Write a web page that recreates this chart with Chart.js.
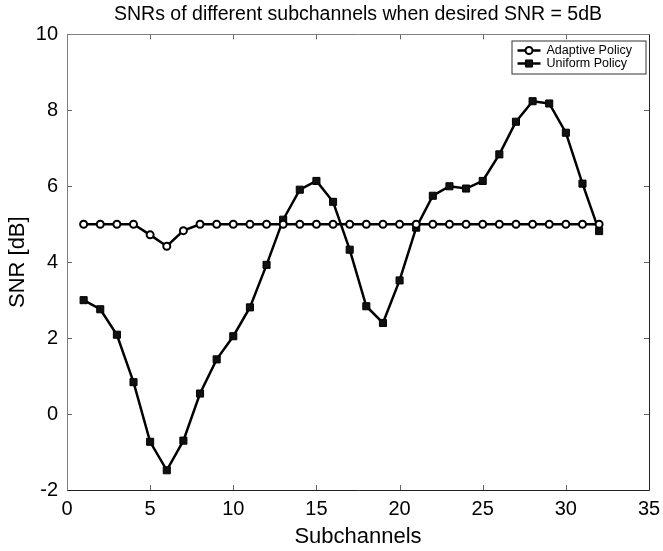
<!DOCTYPE html>
<html>
<head>
<meta charset="utf-8">
<script src="https://cdn.jsdelivr.net/npm/chart.js@4/dist/chart.umd.min.js"></script>
<style>
  html, body { margin: 0; padding: 0; background: #fff; }
  #wrap { width: 663px; height: 551px; }
</style>
</head>
<body>
<div id="wrap"><canvas id="grafico1" width="663" height="551"></canvas></div>
<script>
// subchannel index 1..32
const subchannels = [1,2,3,4,5,6,7,8,9,10,11,12,13,14,15,16,17,18,19,20,21,22,23,24,25,26,27,28,29,30,31,32];

const adaptiveSnr = [5.0,5.0,5.0,5.0,4.72,4.42,4.83,5.0,5.0,5.0,5.0,5.0,5.0,5.0,5.0,5.0,
                     5.0,5.0,5.0,5.0,5.0,5.0,5.0,5.0,5.0,5.0,5.0,5.0,5.0,5.0,5.0,5.0];

const uniformSnr = [3.0,2.76,2.09,0.84,-0.73,-1.48,-0.70,0.54,1.44,2.05,2.81,3.93,5.12,5.91,6.14,5.59,
                    4.33,2.84,2.40,3.52,4.91,5.75,6.0,5.94,6.14,6.84,7.70,8.24,8.18,7.41,6.07,4.82];

const xTicks = [0,5,10,15,20,25,30,35];
const yTicks = [-2,0,2,4,6,8,10];

const titleText = 'SNRs of different subchannels when desired SNR = 5dB';
const seriesNames = ['Adaptive Policy', 'Uniform Policy'];

const font = '"Liberation Sans", Arial, Helvetica, sans-serif';

function toPoints(ys) {
   return subchannels.map((x, i) => ({ x: x, y: ys[i] }));
}

// box round the axes, inward tick marks, legend in the top right
const matlabBox = {
   id: 'matlabBox',
   afterDraw(chart) {
      const ctx = chart.ctx;
      const a = chart.chartArea;
      const xs = chart.scales.x;
      const ys = chart.scales.y;
      const tl = 5;
      ctx.save();
      ctx.lineWidth = 1;
      // ticks
      ctx.strokeStyle = '#666';
      ctx.beginPath();
      xTicks.forEach(v => {
         const px = Math.round(xs.getPixelForValue(v)) + 0.5;
         ctx.moveTo(px, a.bottom); ctx.lineTo(px, a.bottom - tl);
         ctx.moveTo(px, a.top); ctx.lineTo(px, a.top + tl);
      });
      yTicks.forEach(v => {
         const py = Math.round(ys.getPixelForValue(v)) + 0.5;
         ctx.moveTo(a.left, py); ctx.lineTo(a.left + tl, py);
         ctx.moveTo(a.right, py); ctx.lineTo(a.right - tl, py);
      });
      ctx.stroke();
      // top and left edges lighter, bottom and right darker
      const L = Math.round(a.left) + 0.5, R = Math.round(a.right) + 0.5;
      const T = Math.round(a.top) + 0.5, B = Math.round(a.bottom) + 0.5;
      ctx.strokeStyle = '#808080';
      ctx.beginPath();
      ctx.moveTo(L, B); ctx.lineTo(L, T); ctx.lineTo(R, T);
      ctx.stroke();
      ctx.strokeStyle = '#222';
      ctx.beginPath();
      ctx.moveTo(L, B); ctx.lineTo(R, B); ctx.lineTo(R, T);
      ctx.stroke();

      // legend
      const bx = R - 138, by = T + 6, bw = 134, bh = 33;
      ctx.fillStyle = '#fff';
      ctx.fillRect(bx, by, bw, bh);
      ctx.strokeStyle = '#333';
      ctx.strokeRect(bx + 0.5, by + 0.5, bw, bh);
      ctx.font = '12.5px ' + font;
      ctx.textBaseline = 'middle';
      chart.data.datasets.forEach((ds, i) => {
         const cy = by + 10 + i * 13;
         ctx.strokeStyle = '#000';
         ctx.lineWidth = 2.5;
         ctx.beginPath();
         ctx.moveTo(bx + 6, cy); ctx.lineTo(bx + 29, cy);
         ctx.stroke();
         ctx.save();
         ctx.fillStyle = ds.pointBackgroundColor;
         ctx.strokeStyle = '#000';
         ctx.lineWidth = ds.pointBorderWidth;
         ctx.beginPath();
         if (ds.pointStyle === 'circle') {
            ctx.arc(bx + 17.5, cy, ds.pointRadius, 0, Math.PI * 2);
         } else {
            const s = ds.pointRadius * Math.SQRT1_2;
            ctx.rect(bx + 17.5 - s, cy - s, 2 * s, 2 * s);
         }
         ctx.fill();
         ctx.stroke();
         ctx.restore();
         ctx.fillStyle = '#000';
         ctx.fillText(ds.label, bx + 35, cy);
      });
      ctx.restore();
   }
};

const data = {
   datasets: [
      {
         label: seriesNames[0],
         data: toPoints(adaptiveSnr),
         showLine: true,
         borderColor: '#000',
         borderWidth: 2.5,
         pointStyle: 'circle',
         pointRadius: 3.5,
         pointBorderWidth: 2,
         pointBorderColor: '#000',
         pointBackgroundColor: '#fff'
      },
      {
         label: seriesNames[1],
         data: toPoints(uniformSnr),
         showLine: true,
         borderColor: '#000',
         borderWidth: 2.5,
         pointStyle: 'rect',
         pointRadius: 5,
         pointBorderWidth: 1,
         pointBorderColor: '#000',
         pointBackgroundColor: '#111'
      }
   ]
};

const chart1 = new Chart(document.getElementById('grafico1').getContext('2d'), {
   type: 'scatter',
   data,
   options: {
      responsive: false,
      animation: false,
      layout: { padding: { top: 0, right: 14, bottom: 0, left: 0 } },
      plugins: {
         legend: { display: false },
         tooltip: { enabled: false },
         title: {
            display: true,
            text: titleText,
            fullSize: false,
            color: '#000',
            font: { family: font, size: 19.5, weight: 'normal' },
            padding: { top: 3, bottom: 8 }
         }
      },
      scales: {
         x: {
            type: 'linear',
            min: 0, max: 35,
            afterBuildTicks: s => { s.ticks = xTicks.map(v => ({ value: v })); },
            afterFit: s => { s.height = 61; s.paddingLeft = 0; s.paddingRight = 0; },
            grid: { display: false, drawTicks: false },
            border: { display: false },
            ticks: { color: '#000', padding: 7, font: { family: font, size: 20 } },
            title: {
               display: true, text: 'Subchannels', color: '#000',
               font: { family: font, size: 22 }, padding: { top: 0, bottom: 1 }
            }
         },
         y: {
            type: 'linear',
            min: -2, max: 10,
            afterBuildTicks: s => { s.ticks = yTicks.map(v => ({ value: v })); },
            afterFit: s => { s.width = 67; s.paddingTop = 0; s.paddingBottom = 0; },
            grid: { display: false, drawTicks: false },
            border: { display: false },
            ticks: { color: '#000', padding: 9, font: { family: font, size: 20 } },
            title: {
               display: true, text: 'SNR [dB]', color: '#000',
               font: { family: font, size: 22 }, padding: { top: 5, bottom: 0 }
            }
         }
      }
   },
   plugins: [matlabBox]
});
</script>
</body>
</html>
